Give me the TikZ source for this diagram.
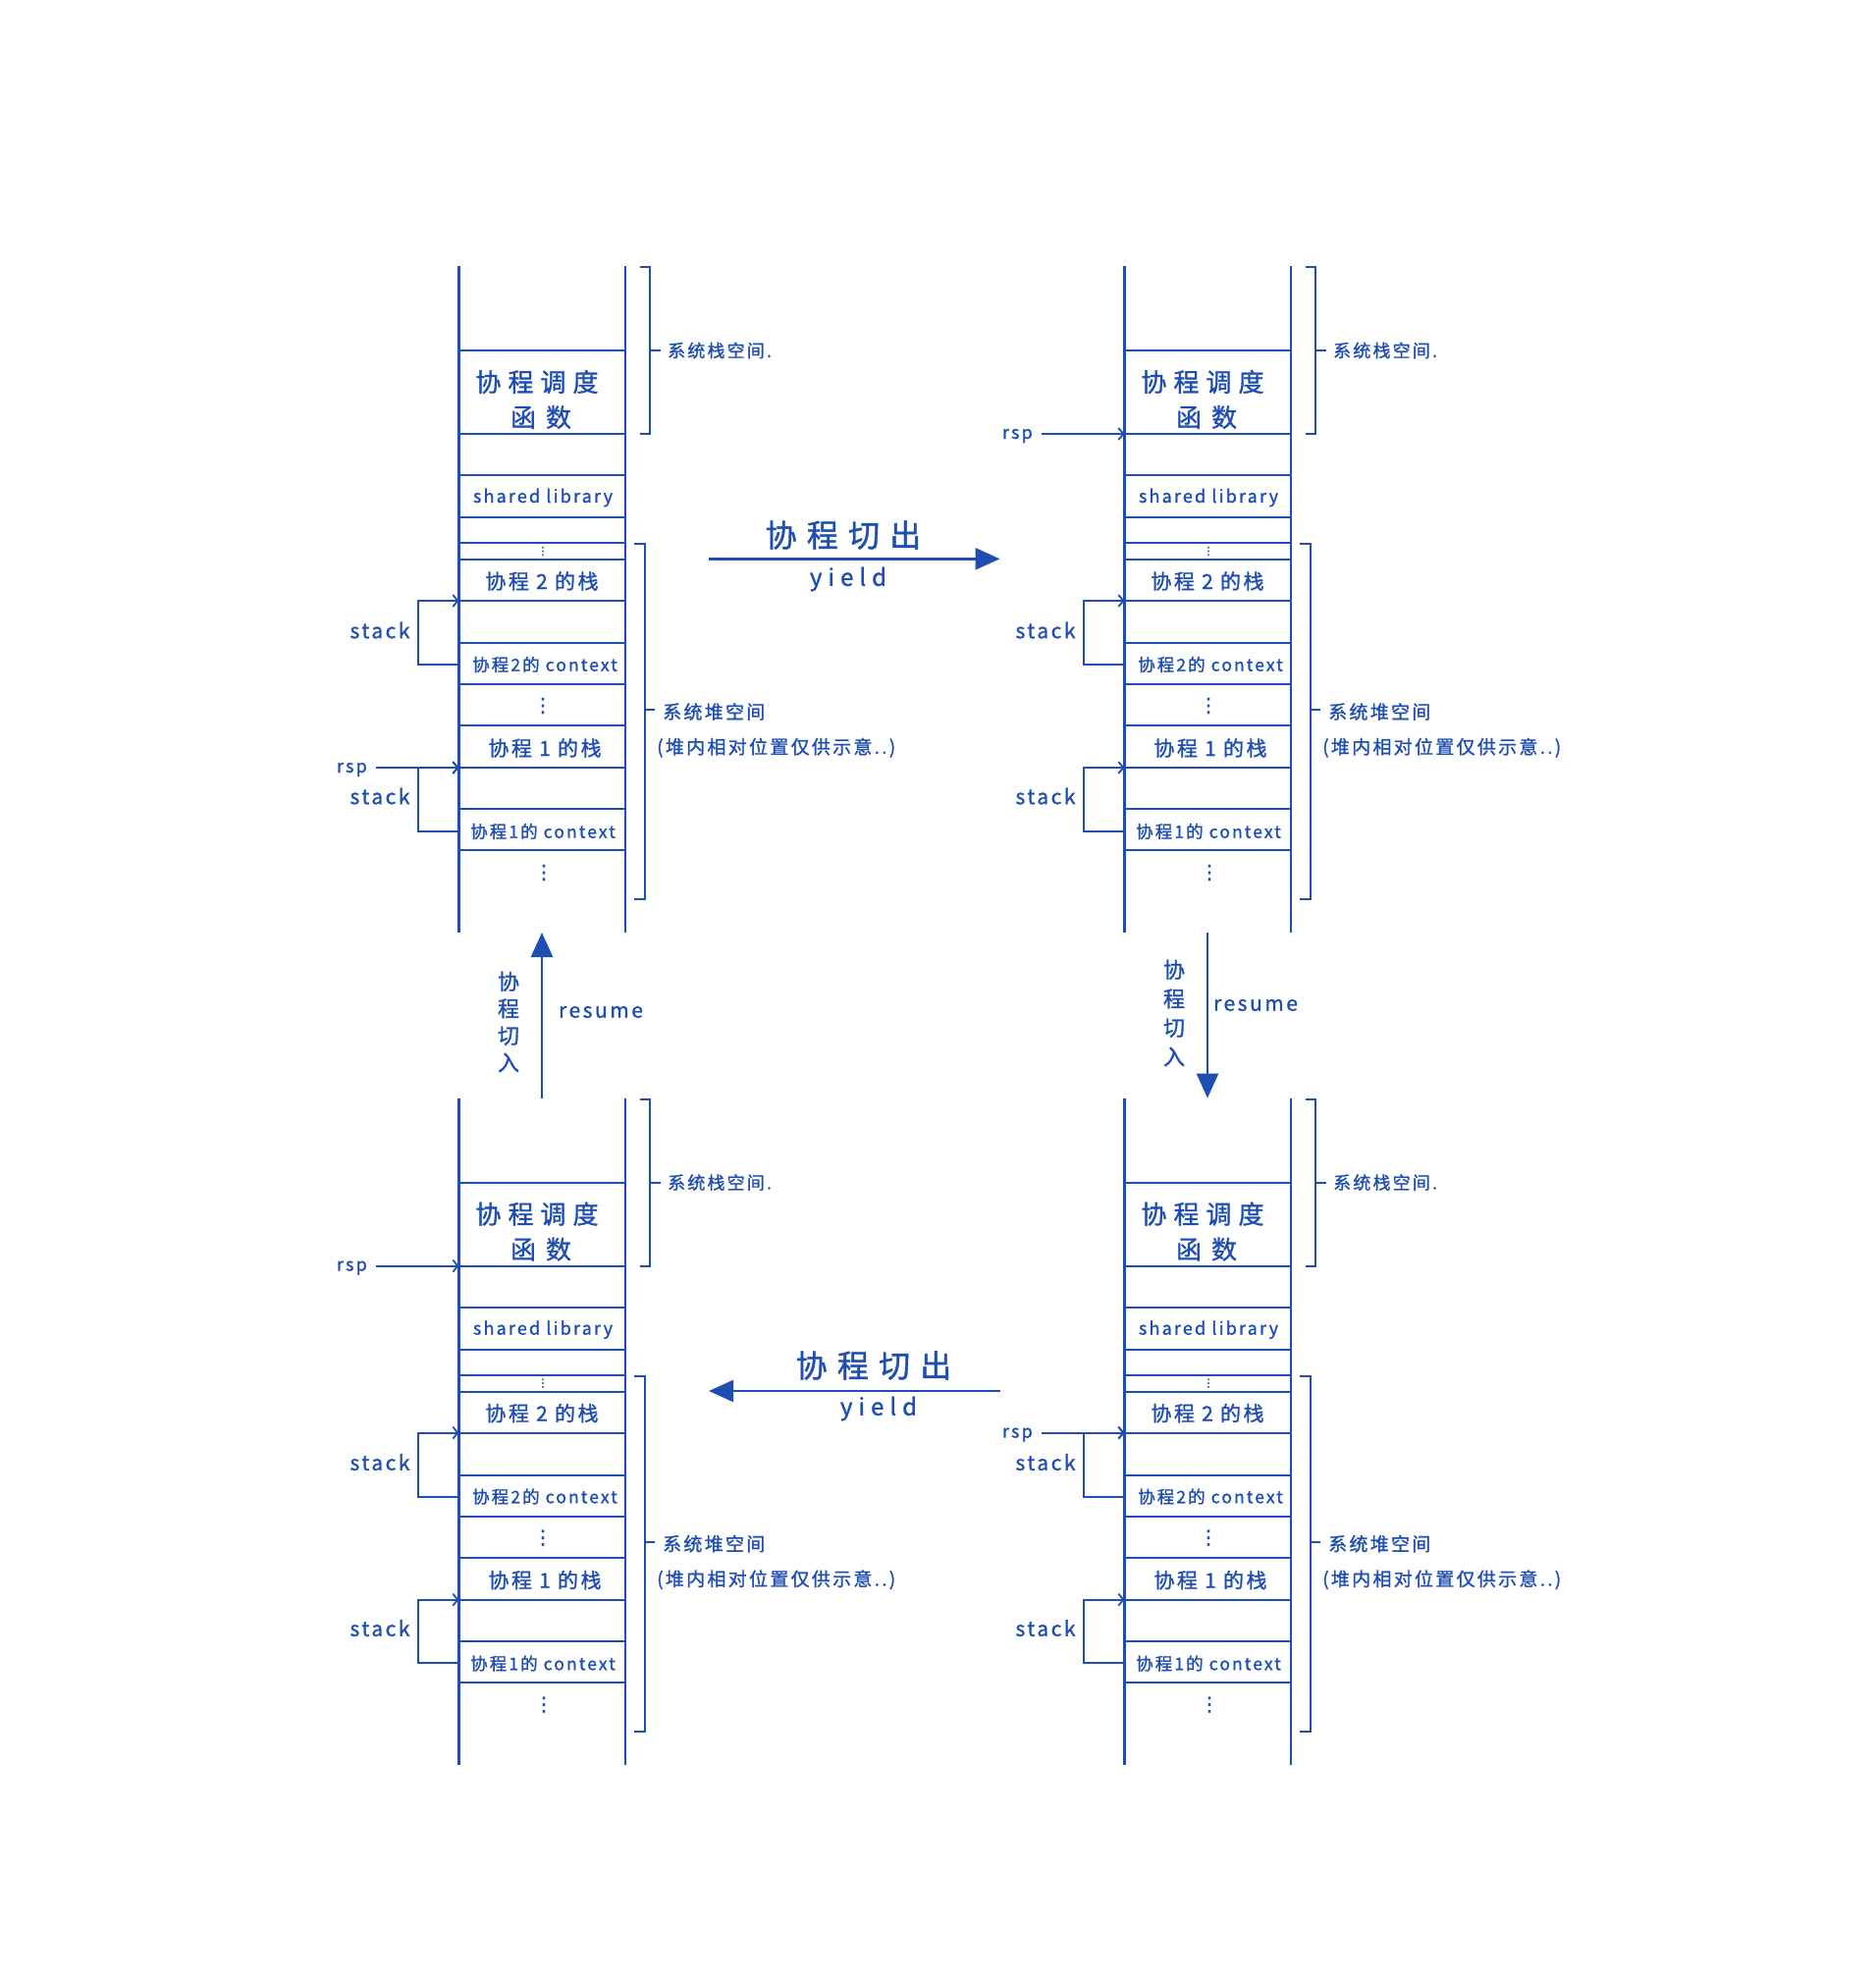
\documentclass[tikz,border=0pt]{standalone}
\usepackage{fontspec}
\setmainfont{Noto Sans CJK SC}
\newfontfamily\hw[LetterSpace=12,FakeBold=1.2]{Noto Sans CJK SC}
\newfontfamily\dv[FakeBold=1.5]{DejaVu Sans}
\usetikzlibrary{arrows.meta,calc}
\definecolor{ink}{RGB}{31,78,178}
\newcommand\hsz[1]{\fontsize{#1}{#1}\selectfont}
\tikzset{
  wall/.style={draw=ink,line width=2.7pt},
  rowline/.style={draw=ink,line width=2pt},
  brk/.style={draw=ink,line width=2pt},
  conn/.style={draw=ink,line width=2pt,-{Straight Barb[length=5pt,width=12pt,line width=1.8pt]}},
  bigarrow/.style={draw=ink,line width=2.5pt,-{Triangle[length=25pt,width=22pt]}},
  txt/.style={text=ink,inner sep=0pt},
}
% #1 name, #2 dx, #3 dy, #4 index of the line rsp points to
\newcommand\stackpanel[4]{%
\begin{scope}[shift={(#2,#3)}]
  \draw[wall] (467.5,271) -- (467.5,950);
  \draw[wall] (637,271) -- (637,950);
  \foreach \i/\yy in {1/357,2/442,3/484,4/527,5/553,6/570,7/612,8/655,9/697,10/739,11/782,12/824,13/866}{
    \draw[rowline] (467.5,\yy) coordinate (#1-w\i) -- (637,\yy);}
  \coordinate (#1-top) at (552,271);
  \coordinate (#1-bot) at (552,950);
  % cell texts
  \node[txt,font=\hw\hsz{26}\addfontfeature{LetterSpace=27}] (#1-sched) at (547,389) {协程调度};
  \node[txt,font=\hw\hsz{26}] (#1-func) at (551,425) {函\hspace{10pt}数};
  \node[txt,font=\hw\hsz{18}] (#1-lib) at (553,507) {shared library};
  \node[txt,font=\dv\hsz{11}] (#1-d0) at (553,561.5) {⋮};
  \node[txt,font=\hw\hsz{21}] (#1-s2) at (552,592) {协程 2 的栈};
  \node[txt,font=\hw\hsz{17.5}] (#1-x2) at (555,677) {协程2的 context};
  \node[txt,font=\dv\hsz{20}] (#1-d1) at (553,719) {⋮};
  \node[txt,font=\hw\hsz{21}] (#1-s1) at (555,762) {协程 1 的栈};
  \node[txt,font=\hw\hsz{17.5}] (#1-x1) at (553,847) {协程1的 context};
  \node[txt,font=\dv\hsz{20}] (#1-d2) at (554,889) {⋮};
  % brackets
  \draw[brk] (651.5,272) -- (661.7,272) -- (661.7,442) -- (651.5,442);
  \draw[brk] (661.7,357.3) -- (673.3,357.3);
  \node[txt,anchor=west,font=\hw\hsz{18}] (#1-sysstack) at (680,357) {系统栈空间.};
  \draw[brk] (646,554.3) -- (656.7,554.3) -- (656.7,916) -- (646,916);
  \draw[brk] (656.7,723.3) -- (666.7,723.3);
  \node[txt,anchor=west,font=\hw\hsz{19}] (#1-sysheap) at (675,725) {系统堆空间};
  \node[txt,anchor=west,font=\hw\hsz{19}] (#1-note) at (669,761.7) {(堆内相对位置仅供示意..)};
  % stack links
  \coordinate (#1-c2) at (467.5,677.3);
  \coordinate (#1-c1) at (467.5,846.7);
  \draw[conn] (#1-c2) -- ++(-41.8,0) |- (#1-w7);
  \node[txt,font=\hw\hsz{21}] (#1-stk2) at (387,642) {stack};
  \draw[conn] (#1-c1) -- ++(-41.8,0) |- (#1-w11);
  \node[txt,font=\hw\hsz{21}] (#1-stk1) at (387,811) {stack};
  % rsp
  \node[txt,anchor=base east,font=\hw\hsz{18}] (#1-rsp) at ($(#1-w#4)+(-93.5,5)$) {rsp};
  \draw[conn] ($(#1-rsp.east |- #1-w#4)+(9,0)$) -- (#1-w#4);
\end{scope}}

\begin{document}
\begin{tikzpicture}[x=1pt,y=-1pt]
  \fill[white] (0,0) rectangle (1911,2014);
  \path[use as bounding box] (0,0) rectangle (1911,2014);

  \stackpanel{TL}{0}{0}{11}
  \stackpanel{TR}{678}{0}{2}
  \stackpanel{BL}{0}{847.6}{2}
  \stackpanel{BR}{678}{847.6}{7}

  % yield (top)
  \coordinate (y1s) at (722,569.3);
  \coordinate (y1e) at (1018.5,569.3);
  \draw[bigarrow] (y1s) -- (y1e);
  \node[txt,font=\hw\hsz{32}\addfontfeature{LetterSpace=32}] (y1t) at (859,545) {协程切出};
  \node[txt,font=\hw\hsz{24}\addfontfeature{LetterSpace=25}] (y1y) at (864,590) {yield};

  % yield (bottom)
  \coordinate (y2s) at (1019,1417);
  \coordinate (y2e) at (722,1417);
  \draw[bigarrow] (y2s) -- (y2e);
  \node[txt,font=\hw\hsz{32}\addfontfeature{LetterSpace=32}] (y2t) at (890,1391) {协程切出};
  \node[txt,font=\hw\hsz{24}\addfontfeature{LetterSpace=25}] (y2y) at (895,1435) {yield};

  % resume (left, upward)
  \draw[bigarrow] (BL-top) -- (TL-bot);
  \node[txt,align=center,font=\hw\fontsize{22}{27.5}\selectfont] (r1t) at (518,1041) {协\\程\\切\\入};
  \node[txt,font=\hw\hsz{21}] (r1r) at (612,1031) {resume};

  % resume (right, downward)
  \draw[bigarrow] (TR-bot) -- (BR-top);
  \node[txt,align=center,font=\hw\fontsize{22}{29.5}\selectfont] (r2t) at (1196,1032) {协\\程\\切\\入};
  \node[txt,font=\hw\hsz{21}] (r2r) at (1279,1024) {resume};
\end{tikzpicture}
\end{document}
